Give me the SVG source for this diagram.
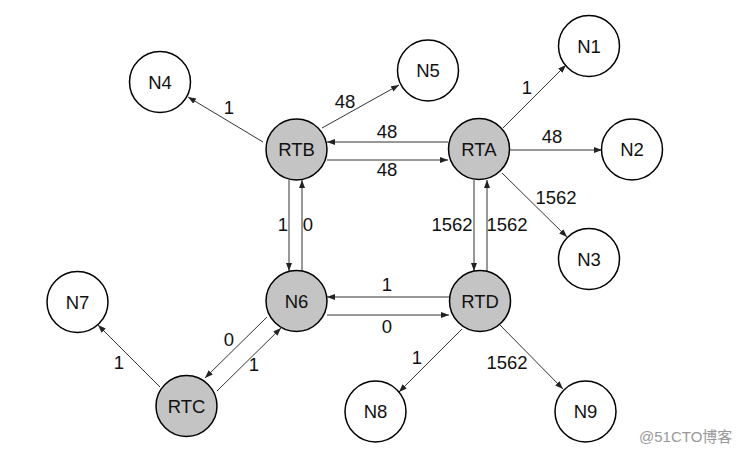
<svg xmlns="http://www.w3.org/2000/svg" width="748" height="454" viewBox="0 0 748 454">
<defs>
<marker id="ah" markerWidth="9" markerHeight="7" refX="8" refY="3" orient="auto" markerUnits="userSpaceOnUse">
<path d="M0,0 L8,3 L0,6 z" fill="#222"/>
</marker>
<style>
.e{stroke:#333;stroke-width:1;fill:none;marker-end:url(#ah)}
.n{stroke:#000;stroke-width:1.5;fill:#fff}
.g{fill:#c4c4c4}
text{font-family:"Liberation Sans",Arial,sans-serif;font-size:18.5px;fill:#111;text-anchor:middle}
.wm{font-family:"Liberation Sans","Noto Sans CJK SC",sans-serif;font-size:15px;fill:#999;text-anchor:start}
</style>
</defs>
<rect width="748" height="454" fill="#fff"/>
<g id="connectors">
<line class="e" x1="263" y1="142" x2="188" y2="97"/>
<line class="e" x1="322" y1="128" x2="399" y2="85"/>
<line class="e" x1="448" y1="142" x2="327" y2="142"/>
<line class="e" x1="327" y1="160" x2="448" y2="160"/>
<line class="e" x1="289" y1="180" x2="289" y2="271"/>
<line class="e" x1="302" y1="271" x2="302" y2="180"/>
<line class="e" x1="503" y1="128" x2="566" y2="65"/>
<line class="e" x1="510" y1="150" x2="602" y2="150"/>
<line class="e" x1="502" y1="173" x2="567" y2="237"/>
<line class="e" x1="474" y1="180" x2="474" y2="271"/>
<line class="e" x1="487" y1="271" x2="487" y2="180"/>
<line class="e" x1="449" y1="297" x2="327" y2="297"/>
<line class="e" x1="327" y1="315" x2="449" y2="315"/>
<line class="e" x1="160" y1="387" x2="98" y2="325"/>
<line class="e" x1="267" y1="317" x2="205" y2="378"/>
<line class="e" x1="217" y1="391" x2="281" y2="328"/>
<line class="e" x1="462" y1="329" x2="399" y2="392"/>
<line class="e" x1="500" y1="325" x2="563" y2="389"/>
<text x="229" y="114">1</text>
<text x="345" y="108">48</text>
<text x="387" y="138">48</text>
<text x="387" y="176">48</text>
<text x="283" y="231">1</text>
<text x="308" y="231">0</text>
<text x="527" y="94">1</text>
<text x="552" y="143">48</text>
<text x="556" y="204">1562</text>
<text x="452" y="231">1562</text>
<text x="507" y="231">1562</text>
<text x="387" y="291">1</text>
<text x="387" y="333">0</text>
<text x="119" y="369">1</text>
<text x="229" y="346">0</text>
<text x="254" y="371">1</text>
<text x="417" y="364">1</text>
<text x="507" y="369">1562</text>
</g>
<g id="N4"><circle class="n" cx="160" cy="82" r="30.5"/><text x="160" y="88.5">N4</text></g>
<g id="N5"><circle class="n" cx="428" cy="70.5" r="30.5"/><text x="428" y="77">N5</text></g>
<g id="RTB"><circle class="n g" cx="296.5" cy="149.5" r="30.5"/><text x="296.5" y="156">RTB</text></g>
<g id="RTA"><circle class="n g" cx="479" cy="149" r="30.5"/><text x="479" y="155.5">RTA</text></g>
<g id="N1"><circle class="n" cx="589" cy="46" r="30.5"/><text x="589" y="52.5">N1</text></g>
<g id="N2"><circle class="n" cx="632" cy="149.5" r="30.5"/><text x="632" y="156">N2</text></g>
<g id="N3"><circle class="n" cx="589" cy="259" r="30.5"/><text x="589" y="265.5">N3</text></g>
<g id="N6"><circle class="n g" cx="296.5" cy="301" r="30.5"/><text x="296.5" y="307.5">N6</text></g>
<g id="RTD"><circle class="n g" cx="480" cy="301" r="30.5"/><text x="480" y="307.5">RTD</text></g>
<g id="N7"><circle class="n" cx="77.5" cy="302" r="30.5"/><text x="77.5" y="308.5">N7</text></g>
<g id="RTC"><circle class="n g" cx="186.5" cy="406" r="30.5"/><text x="186.5" y="412.5">RTC</text></g>
<g id="N8"><circle class="n" cx="375.5" cy="411.5" r="30.5"/><text x="375.5" y="418">N8</text></g>
<g id="N9"><circle class="n" cx="585.5" cy="411.5" r="30.5"/><text x="585.5" y="418">N9</text></g>
<text class="wm" x="639" y="442">@51CTO博客</text>
</svg>
